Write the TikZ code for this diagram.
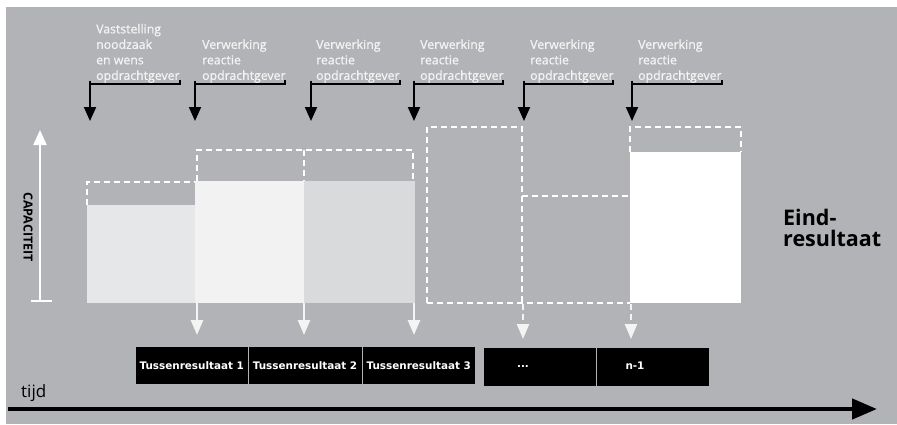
\documentclass[tikz,border=0pt]{standalone}
\usepackage{fontspec}
\setmainfont{Open Sans}
\newfontfamily\labelfont[FakeBold=0.7]{Open Sans}
\newfontfamily\boxfont{DejaVu Sans}
\usetikzlibrary{arrows.meta}

\definecolor{panel}{HTML}{B1B3B6}
\definecolor{barA}{HTML}{E6E7E8}
\definecolor{barB}{HTML}{F2F2F2}
\definecolor{barC}{HTML}{D9DADB}
\definecolor{chalk}{HTML}{F4F4F4}

\tikzset{
  toplabel/.style={text=chalk, font=\labelfont\fontsize{12.3}{15.5}\selectfont, align=left,
    inner sep=0pt, anchor=south west},
  bracket/.style={line width=1.5pt, black},
  callout/.style={line width=2pt, black, -{Triangle[width=12pt,length=14pt]}},
  bar/.style={inner sep=0pt, outer sep=0pt, anchor=south west},
  plan/.style={white, dash pattern=on 6pt off 4pt, line width=2pt},
  deliver/.style={chalk, line width=2.5pt, -{Triangle[width=12pt,length=15pt]}},
  deliverplan/.style={chalk, line width=2.5pt, dash pattern=on 6pt off 4pt,
    -{Triangle[width=12pt,length=15pt]}},
  resultbox/.style={fill=black, text=white, inner sep=0pt, outer sep=0pt,
    anchor=north west, font=\boxfont\bfseries\fontsize{10.4}{12}\selectfont}
}

\begin{document}
\begin{tikzpicture}[x=1pt,y=-1pt]
\useasboundingbox (0,0) rectangle (897,424);
\fill[white] (0,0) rectangle (897,424);
\fill[panel] (6,7) rectangle (897,424);

% ---- capacity axis ----
\coordinate (capfoot) at (40,301);
\coordinate (captop) at (40,130);
\draw[white, line width=2.2pt, -{Triangle[width=13pt,length=15pt]}] (capfoot) -- (captop);
\draw[white, line width=2.2pt] (31,301) -- (52,301);
\node[rotate=-90, font=\bfseries\fontsize{12.5}{14}\selectfont, inner sep=0pt] (cap) at (28,227) {CAPACITEIT};

% ---- realised capacity per step ----
\node[bar, fill=barA, minimum width=108pt, minimum height=98pt] (b1) at (87,303) {};
\node[bar, fill=barB, minimum width=109pt, minimum height=122pt] (b2) at (195,303) {};
\node[bar, fill=barC, minimum width=111pt, minimum height=122pt] (b3) at (304,303) {};
\node[bar, fill=white, minimum width=111pt, minimum height=151pt] (bn) at (630,303) {};

% ---- requested capacity (dashed) ----
\draw[plan] (b1.north west) -- (87,182) -- (195,182);
\draw[plan] (197,181) -- (197,150) -- (413,150) -- (413,181);
\draw[plan] (304,150) -- (304,181);
\draw[plan] (427,303) -- (427,127) -- (522,127) -- (522,303);
\draw[plan] (522,196) -- (630,196);
\draw[plan] (427,303) -- (bn.south west);
\draw[plan] (bn.north west) -- (630,127) -- (741,127) -- (bn.north east);

% ---- deliveries ----
\coordinate (d1) at (197,303); \coordinate (e1) at (197,335);
\coordinate (d2) at (304,303); \coordinate (e2) at (304,335);
\coordinate (d3) at (414,303); \coordinate (e3) at (414,335);
\coordinate (d4) at (523,304); \coordinate (e4) at (523,339);
\coordinate (d5) at (631,304); \coordinate (e5) at (631,339);
\draw[deliver] (d1) -- (e1);
\draw[deliver] (d2) -- (e2);
\draw[deliver] (d3) -- (e3);
\draw[deliverplan] (d4) -- (e4);
\draw[deliverplan] (d5) -- (e5);

% ---- intermediate results ----
\node[resultbox, minimum width=111.5pt, minimum height=37pt] (t1) at (136,347) {};
\node[resultbox, minimum width=113pt, minimum height=37pt] (t2) at (248.5,347) {};
\node[resultbox, minimum width=112.5pt, minimum height=37pt] (t3) at (362.5,347) {};
\node[resultbox, minimum width=111.5pt, minimum height=38pt] (t4) at (484,348) {};
\node[resultbox, minimum width=112.5pt, minimum height=38pt] (t5) at (596.5,348) {};
\node[resultbox, anchor=center] at (t1.center) {Tussenresultaat 1};
\node[resultbox, anchor=center] at (t2.center) {Tussenresultaat 2};
\node[resultbox, anchor=center] at (t3.center) {Tussenresultaat 3};
\node[resultbox, anchor=center] at (523,367) {...};
\node[resultbox, anchor=center] at (635,366) {n-1};

% ---- end result ----
\node[font=\bfseries\fontsize{21.5}{21}\selectfont, align=left, inner sep=0pt, anchor=west] (eind) at (783,228) {Eind-\\resultaat};

% ---- time axis ----
\node[font=\fontsize{17}{17}\selectfont, inner sep=0pt, anchor=base west] (tijd) at (21,397) {tijd};
\coordinate (t0) at (8,409);
\coordinate (tend) at (877,409);
\draw[black, line width=4.5pt, -{Triangle[width=20pt,length=25pt]}] (t0) -- (tend);

% ---- client moments ----
\node[toplabel] (l1) at (96,83) {Vaststelling\\noodzaak\\en wens\\opdrachtgever};
\node[toplabel] (l2) at (202,83) {Verwerking\\reactie\\opdrachtgever};
\node[toplabel] (l3) at (316,83) {Verwerking\\reactie\\opdrachtgever};
\node[toplabel] (l4) at (420,83) {Verwerking\\reactie\\opdrachtgever};
\node[toplabel] (l5) at (530,83) {Verwerking\\reactie\\opdrachtgever};
\node[toplabel] (l6) at (638,83) {Verwerking\\reactie\\opdrachtgever};

\foreach \n/\a/\b in {1/90/180, 2/195/285, 3/311/400, 4/414/503, 5/524/613, 6/632/722} {
  \coordinate (k\n) at (\a,84);
  \coordinate (r\n) at (\b,84);
  \coordinate (s\n) at (\a,121);
  \draw[bracket] (\a,80.5) -- (k\n) -- (r\n) -- ++(0,-4);
  \draw[callout] (k\n) -- (s\n);
}
\end{tikzpicture}
\end{document}
